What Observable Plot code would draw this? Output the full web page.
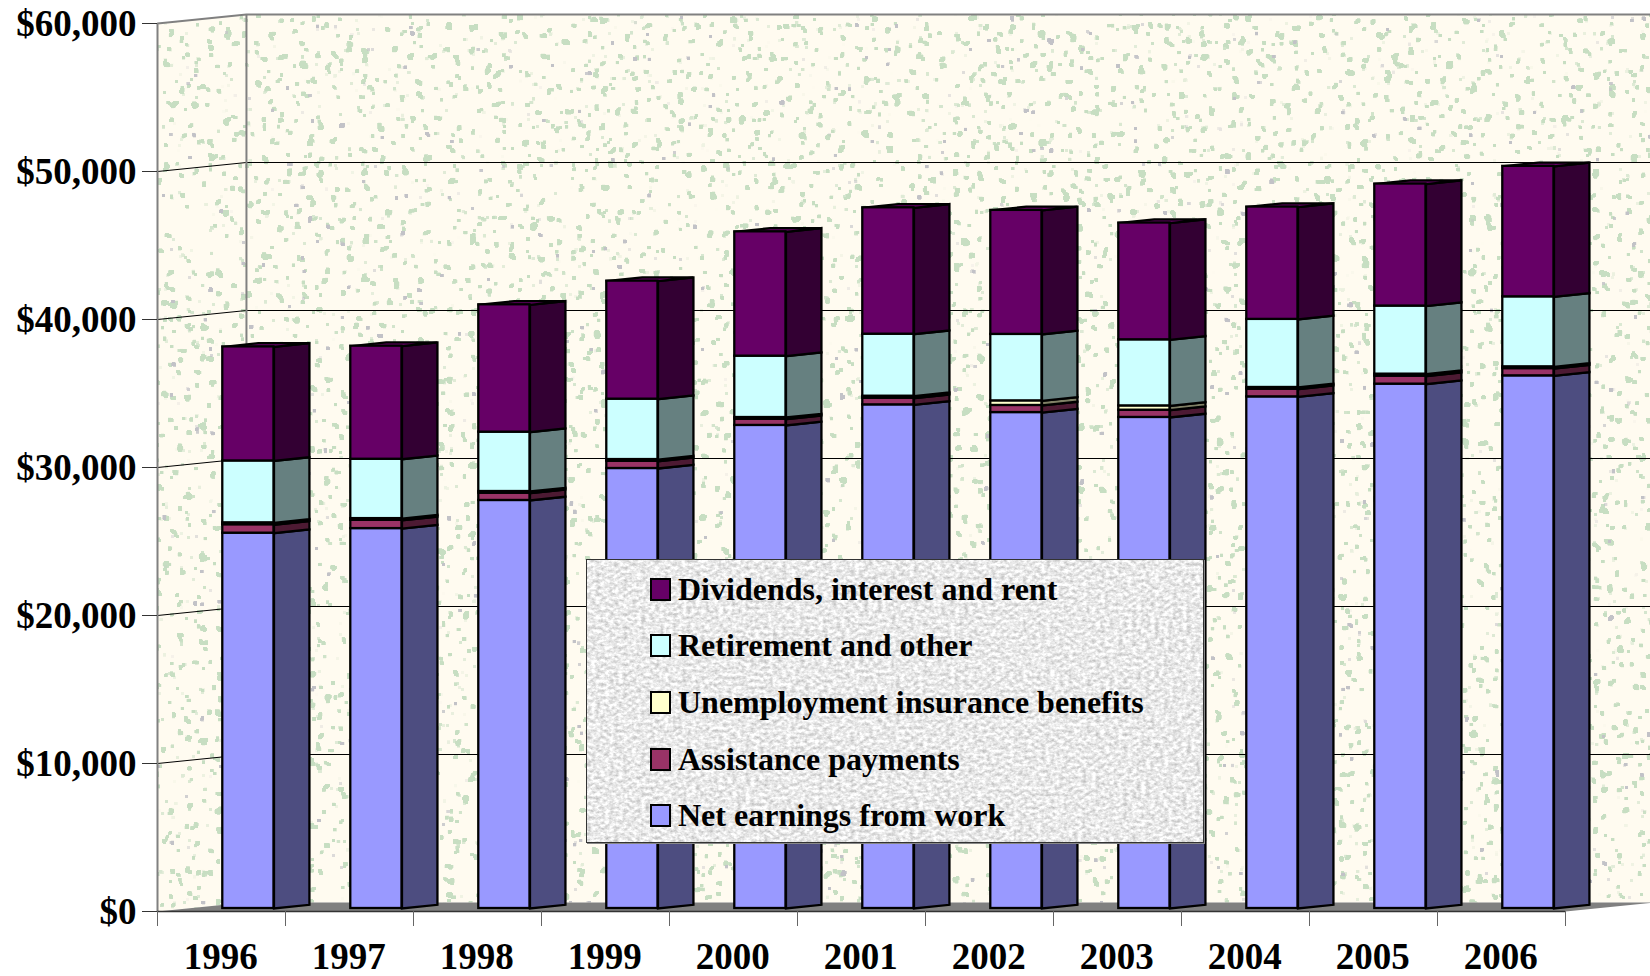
<!DOCTYPE html>
<html>
<head>
<meta charset="utf-8">
<script src="https://cdn.jsdelivr.net/npm/d3@7"></script>
<script src="https://cdn.jsdelivr.net/npm/@observablehq/plot@0.6"></script>
<style>
html,body{margin:0;padding:0;background:#fff;overflow:hidden;width:1650px;height:976px}
#wrap{position:relative;width:1650px;height:976px;font-family:"Liberation Serif",serif}
#legend{position:absolute;left:586px;top:559px;width:616px;height:282px;border:1px solid #333;box-shadow:1px 1px 0 #888;overflow:hidden}
#legend svg{position:absolute;left:0;top:0}
.row{position:absolute;left:63px;height:24px;display:flex;align-items:center;white-space:nowrap;font-weight:bold;font-size:32px;color:#000}
.sw{width:17px;height:19px;border:2px solid #000;margin-right:7px;flex:none}
</style>
</head>
<body>
<svg width="0" height="0" style="position:absolute">
  <defs>
    <filter id="speckle" x="0" y="0" width="100%" height="100%" color-interpolation-filters="sRGB">
      <feTurbulence type="fractalNoise" baseFrequency="0.13" numOctaves="3" seed="7" result="n"/>
      <feColorMatrix in="n" type="matrix" values="0 0 0 0 0.78  0 0 0 0 0.87  0 0 0 0 0.76  40 0 0 0 -28.4" result="g0"/>
      <feMorphology in="g0" operator="dilate" radius="1" result="g1"/>
      <feColorMatrix in="n" type="matrix" values="0 0 0 0 0.76  0 0 0 0 0.76  0 0 0 0 0.78  0 40 0 0 -33" result="h0"/>
      <feMorphology in="h0" operator="dilate" radius="1" result="h1"/>
      <feComposite in="g1" in2="SourceAlpha" operator="in" result="g2"/>
      <feComposite in="h1" in2="SourceAlpha" operator="in" result="h2"/>
      <feMerge><feMergeNode in="SourceGraphic"/><feMergeNode in="g2"/><feMergeNode in="h2"/></feMerge>
    </filter>
    <filter id="marble" x="0" y="0" width="100%" height="100%" color-interpolation-filters="sRGB">
      <feTurbulence type="fractalNoise" baseFrequency="0.22 0.3" numOctaves="3" seed="11"/>
      <feColorMatrix type="matrix" values="0.45 0 0 0 0.69  0.45 0 0 0 0.69  0.45 0 0 0 0.69  0 0 0 0 1"/>
    </filter>
  </defs>
</svg>
<div id="wrap"></div>
<script>
const years = [1996,1997,1998,1999,2000,2001,2002,2003,2004,2005,2006];
const earnings     = [25360,25670,27570,29730,32640,34030,33510,33180,34570,35430,35990];
const assistance   = [570,560,490,490,420,450,480,490,520,540,490];
const unemployment = [130,115,115,115,115,135,310,290,115,135,120];
const retirement   = [4180,4010,4010,4080,4145,4190,4490,4465,4600,4600,4730];
const dividends    = [7705,7640,8605,7975,8400,8540,8380,7890,7590,8245,8815];

const seriesNames = ["Net earnings from work","Assistance payments","Unemployment insurance benefits","Retirement and other","Dividends, interest and rent"];
const seriesValues = [earnings,assistance,unemployment,retirement,dividends];
const frontColors = ["#9999FF","#993366","#FFFFCC","#CCFFFF","#660066"];
const sideColors  = ["#4D4D80","#4D1A33","#808066","#668080","#330033"];

const yTicks = [0,10000,20000,30000,40000,50000,60000];

// Projection of the pseudo-3D box, in scale units
const wallDX = 0.695, wallDY = 608.11;
const barX1 = 0.510, barX2 = 0.910, barDX = 0.277, barDY = 250, barLift = 203;
const xMax = years.length;

function poly(rows,id,pts,fill){
  [...pts,pts[0]].forEach(([x,y])=>rows.push({id,x,y,fill}));
}
const walls=[], floor=[], sides=[], tops=[], fronts=[], grid=[], edges=[];
poly(walls,"side",[[0,0],[wallDX,wallDY],[wallDX,60000+wallDY],[0,60000]],"#FFFBF0");
poly(walls,"back",[[wallDX,wallDY],[xMax+wallDX,wallDY],[xMax+wallDX,60000+wallDY],[wallDX,60000+wallDY]],"#FFFBF0");
poly(floor,"floor",[[0,0],[xMax,0],[xMax+wallDX,wallDY],[wallDX,wallDY]],"#808080");
yTicks.filter(v=>v>0&&v<60000).forEach(v=>{
  grid.push({id:v,x:0,y:v},{id:v,x:wallDX,y:v+wallDY},{id:v,x:xMax+wallDX,y:v+wallDY});
});
[[[0,0],[0,60000],[wallDX,60000+wallDY],[xMax+wallDX,60000+wallDY]],[[wallDX,60000+wallDY],[wallDX,wallDY]]]
  .forEach((e,i)=>e.forEach(([x,y])=>edges.push({id:i,x,y})));

years.forEach((yr,i)=>{
  let base = barLift;
  const x1=i+barX1, x2=i+barX2;
  seriesValues.forEach((vals,s)=>{
    const top = base+vals[i];
    fronts.push({x1,x2,y1:base,y2:top,fill:frontColors[s]});
    poly(sides,`${yr}-${s}`,[[x2,base],[x2+barDX,base+barDY],[x2+barDX,top+barDY],[x2,top]],sideColors[s]);
    base = top;
  });
  poly(tops,`${yr}`,[[x1,base],[x2,base],[x2+barDX,base+barDY],[x1+barDX,base+barDY]],frontColors[4]);
});

const outline = {strokeLinejoin:"miter",strokeMiterlimit:10,strokeLinecap:"square"};
const withFilter = id => (index,scales,values,dims,ctx,next)=>{
  const g = next(index,scales,values,dims,ctx);
  g.setAttribute("filter",`url(#${id})`);
  return g;
};
const labelStyle = {fontSize:37,fontWeight:"bold",fill:"#000"};

const chart = Plot.plot({
  width:1650, height:976,
  marginLeft:157, marginRight:85, marginTop:23, marginBottom:65,
  x:{domain:[0,xMax]},
  y:{domain:[0,60000]},
  color:{type:"identity"},
  style:{fontFamily:'"Liberation Serif",serif',background:"#fff",color:"#000"},
  marks:[
    Plot.line(walls,{x:"x",y:"y",z:"id",fill:d=>d.fill,stroke:"none",render:withFilter("speckle")}),
    Plot.line(grid,{x:"x",y:"y",z:"id",stroke:"#000",strokeWidth:1,strokeLinecap:"butt"}),
    Plot.line(floor,{x:"x",y:"y",z:"id",fill:d=>d.fill,stroke:"none"}),
    Plot.line(edges,{x:"x",y:"y",z:"id",stroke:"#808080",strokeWidth:2,strokeLinecap:"butt",strokeLinejoin:"miter"}),
    Plot.ruleY([0],{x1:0,x2:xMax,stroke:"#333",strokeWidth:1.5}),
    Plot.line(sides,{x:"x",y:"y",z:"id",fill:d=>d.fill,stroke:"#000",strokeWidth:2.3,...outline}),
    Plot.line(tops,{x:"x",y:"y",z:"id",fill:d=>d.fill,stroke:"#000",strokeWidth:2.3,...outline}),
    Plot.rect(fronts,{x1:"x1",x2:"x2",y1:"y1",y2:"y2",fill:d=>d.fill,stroke:"#000",strokeWidth:2.3}),
    Plot.axisY({ticks:yTicks,tickFormat:()=>"",tickSize:15,stroke:"#333",label:null}),
    Plot.axisY({ticks:yTicks,tickFormat:d3.format("$,"),tickSize:0,tickPadding:21,dy:1,label:null,...labelStyle}),
    Plot.axisX({ticks:d3.range(0,xMax+1),tickSize:15,tickFormat:()=>"",stroke:"#666",label:null}),
    Plot.axisX({ticks:years.map((_,i)=>i+0.495),tickSize:0,tickPadding:31,tickFormat:v=>String(years[Math.floor(v)]),label:null,...labelStyle})
  ]
});
document.getElementById("wrap").appendChild(chart);

// Legend overlaid on the chart
const legend = d3.select("#wrap").append("div").attr("id","legend");
legend.append("svg").attr("width",616).attr("height",282)
  .append("rect").attr("width",616).attr("height",282).attr("filter","url(#marble)");
const rowTops = [17,73,130,187,243];
d3.range(seriesNames.length).reverse().forEach((s,k)=>{
  const row = legend.append("div").attr("class","row").style("top",rowTops[k]+"px");
  row.append("div").attr("class","sw").style("background",frontColors[s]);
  row.append("span").text(seriesNames[s]);
});
</script>
</body>
</html>
